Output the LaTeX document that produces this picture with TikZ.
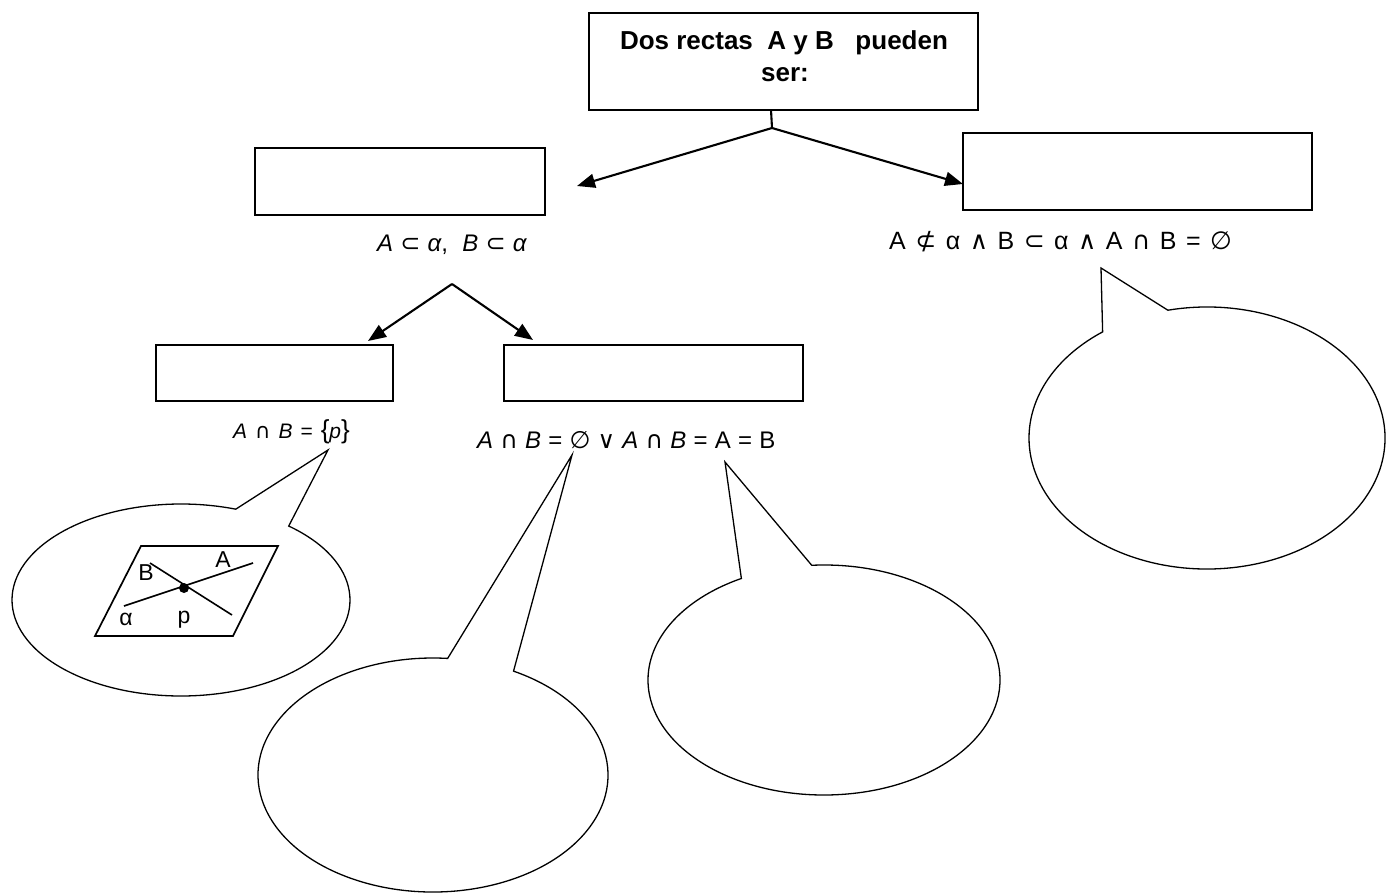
\documentclass[tikz,border=0pt]{standalone}
\usepackage{fontspec}
\setmainfont{Liberation Sans}
\newfontfamily\symfont{DejaVu Sans}
\usetikzlibrary{arrows.meta}
\newcommand{\sy}[1]{{\symfont #1}}
\newcommand{\fs}[1]{\fontsize{#1}{#1}\selectfont}
\newcommand{\gp}{\hspace{0.3em}}
\newcommand{\gq}{\hspace{0.38em}}
\begin{document}
\begin{tikzpicture}[x=1pt,y=-1pt,
  box/.style={draw, line width=1.9pt, inner sep=0pt, outer sep=0pt, anchor=north west},
  conn/.style={line width=2.1pt},
  arr/.style={line width=2.1pt, -{Triangle[length=18pt,width=14pt]}},
  bubble/.style={draw, line width=1.3pt, line join=miter, fill=white},
  plane/.style={line width=1.7pt, line join=miter},
  lbl/.style={anchor=base, inner sep=0pt},
  form/.style={anchor=base west, inner sep=0pt}]
\useasboundingbox (0,0) rectangle (1386,896);
\fill[white] (0,0) rectangle (1386,896);

% boxes
\node[box, minimum width=389pt, minimum height=97pt] (top) at (589,13) {};
\node[box, minimum width=290pt, minimum height=67pt] (l2a) at (255,148) {};
\node[box, minimum width=349pt, minimum height=77pt] (l2b) at (963,133) {};
\node[box, minimum width=237pt, minimum height=56pt] (l3a) at (156,345) {};
\node[box, minimum width=299pt, minimum height=56pt] (l3b) at (504,345) {};

% title text
\node[lbl, font=\bfseries\fs{26}] (t1) at (784,50) {Dos rectas\ \ A y B\ \ \ pueden};
\node[lbl, font=\bfseries\fs{26}] (t2) at (785,82) {ser:};

% connectors
\coordinate (s0) at (771,110);
\coordinate (j1) at (772,128);
\coordinate (a1) at (577,186);
\coordinate (a2) at (963,184);
\draw[conn] (s0) -- (j1);
\draw[arr] (j1) -- (a1);
\draw[arr] (j1) -- (a2);

\coordinate (j2) at (452,284);
\coordinate (a3) at (368,341);
\coordinate (a4) at (533,340);
\draw[arr] (j2) -- (a3);
\draw[arr] (j2) -- (a4);

% formulas
\node[form, font=\fs{24}] (f1) at (377,251) {\textit{A}\gp\sy{⊂}\gp\textit{α},\gp\gp\textit{B}\gp\sy{⊂}\gp\textit{α}};
\node[form, font=\fs{25}] (f2) at (889,249) {A\gq\sy{⊄}\gq α\gq\sy{∧}\gq B\gq\sy{⊂}\gq α\gq\sy{∧}\gq A\gq\sy{∩}\gq B\gq =\gq\sy{∅}};
\node[form, font=\fs{21}] (f3) at (233,438) {\textit{A}\gq\sy{∩}\gq\textit{B}\gq=\gq{\fs{26}\{}\textit{p}{\fs{26}\}}};
\node[form, font=\fs{24}] (f4) at (477,448) {\textit{A}\gp\sy{∩}\gp\textit{B}\gp=\gp\sy{∅}\gp\sy{∨}\gp\textit{A}\gp\sy{∩}\gp\textit{B}\gp=\gp A\gp=\gp B};

% callouts
\coordinate (cL) at (181,600);
\coordinate (tL) at (328,450);
\draw[bubble] (tL) -- ([shift={(-50.4:169 and 96)}]cL) arc[start angle=-50.4, end angle=288.9, x radius=169, y radius=96] -- cycle;

\coordinate (cM) at (433,775);
\coordinate (tM) at (572,455);
\draw[bubble] (tM) -- ([shift={(-62.6:175 and 117)}]cM) arc[start angle=-62.6, end angle=274.8, x radius=175, y radius=117] -- cycle;

\coordinate (cN) at (824,680);
\coordinate (tN) at (725,462);
\draw[bubble] (tN) -- ([shift={(-94:176 and 115)}]cN) arc[start angle=-94, end angle=242, x radius=176, y radius=115] -- cycle;

\coordinate (cR) at (1207,438);
\coordinate (tR) at (1101,268);
\draw[bubble] (tR) -- ([shift={(-102.7:178 and 131)}]cR) arc[start angle=-102.7, end angle=234.1, x radius=178, y radius=131] -- cycle;

% plane figure
\draw[plane] (95,636) -- (141,546) -- (278,546) -- (233,636) -- cycle;
\coordinate (A1) at (124,606);
\coordinate (A2) at (253,563);
\coordinate (B1) at (150,563);
\coordinate (B2) at (232,615);
\coordinate (P) at (184,588);
\draw[line width=1.6pt] (A1) -- (A2);
\draw[line width=1.6pt] (B1) -- (B2);
\fill (P) circle[radius=5];
\node[lbl, font=\fs{23}] (lB) at (146,580) {B};
\node[lbl, font=\fs{23}] (lA) at (223,567) {A};
\node[lbl, font=\fs{23}] (lal) at (126,625) {α};
\node[lbl, font=\fs{23}] (lp) at (184,623) {p};
\end{tikzpicture}
\end{document}
